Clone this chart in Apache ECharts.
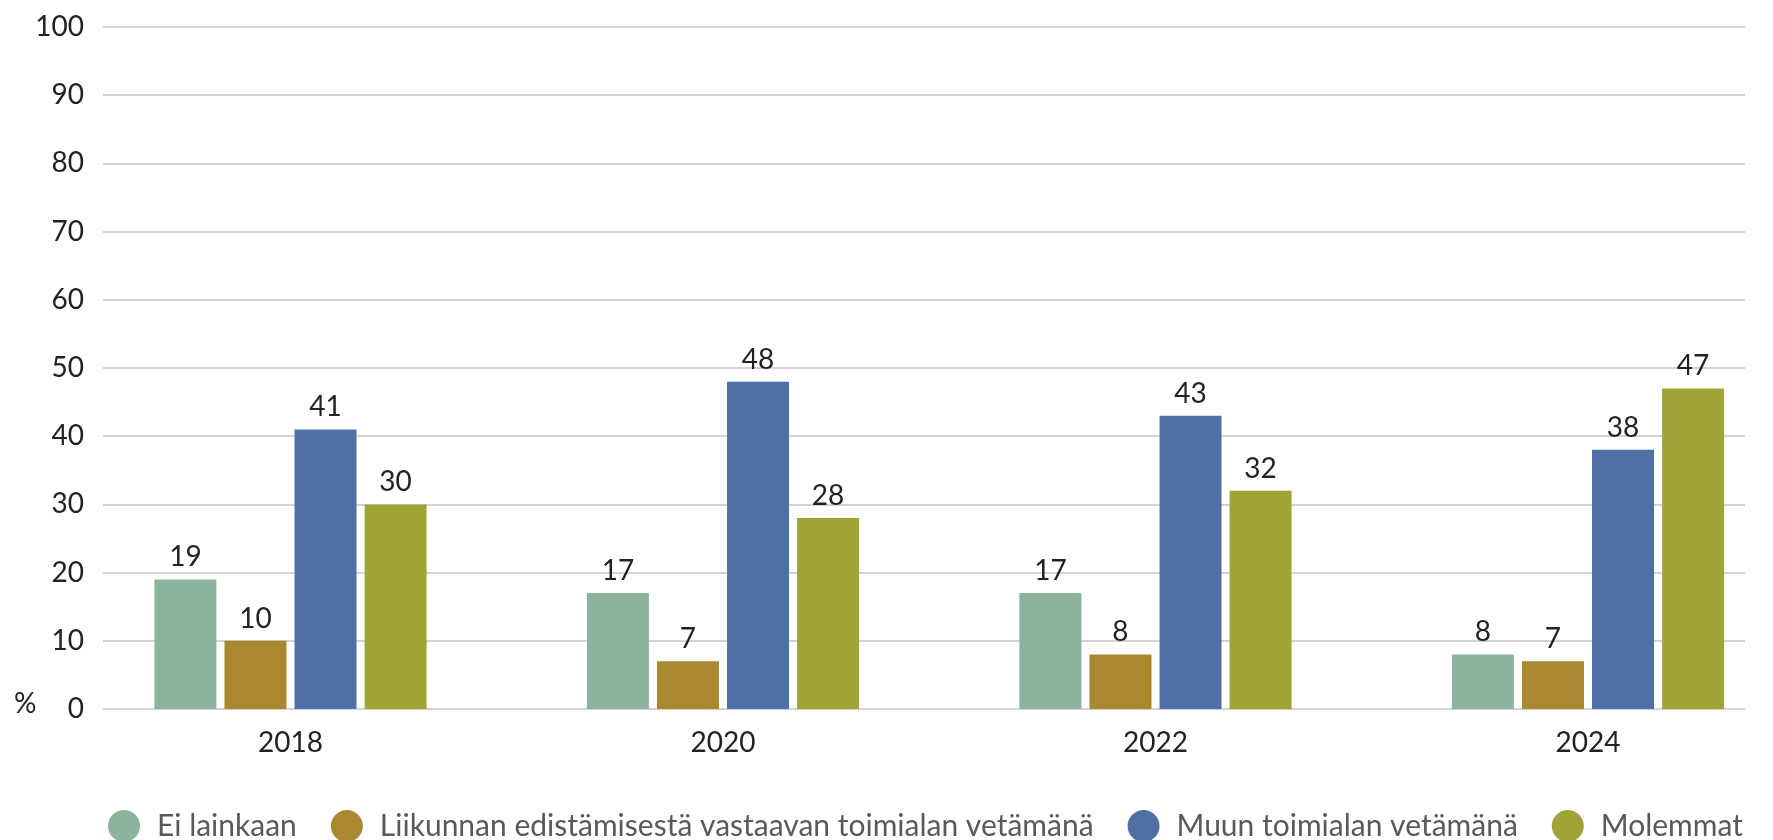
<!DOCTYPE html>
<html>
<head>
<meta charset="utf-8">
<script src="https://cdn.jsdelivr.net/npm/echarts@6/dist/echarts.min.js"></script>
<style>
  html, body { margin: 0; padding: 0; background: #fff; }
  #chart { width: 1773px; height: 840px; }
</style>
</head>
<body>
<div id="chart"></div>
<script>
const years = ['2018', '2020', '2022', '2024']
const seriesNames = [
  'Ei lainkaan',
  'Liikunnan edistämisestä vastaavan toimialan vetämänä',
  'Muun toimialan vetämänä',
  'Molemmat'
]
const eiLainkaan = [19, 17, 17, 8]
const liikunnan = [10, 7, 8, 7]
const muun = [41, 48, 43, 38]
const molemmat = [30, 28, 32, 47]
const colors = ['#8ab49b', '#aa8830', '#4e70a5', '#a0a335']

const font = 'Lato'
const chart = echarts.init(document.getElementById('chart'))

function bar (name, data, color) {
  return {
    name: name,
    type: 'bar',
    xAxisIndex: 0,
    yAxisIndex: 0,
    barWidth: 62,
    barGap: '13%',
    clip: false,
    itemStyle: { color: color },
    label: {
      show: true,
      position: 'top',
      distance: 8,
      fontFamily: font,
      fontSize: 28,
      color: '#222'
    },
    data: data
  }
}

chart.setOption({
  animation: false,
  textStyle: { fontFamily: font },
  color: colors,
  grid: [
    // bar groups sit on the ticks of this grid (first and last at its edges)
    { left: 290.5, width: 1297.5, top: 27, height: 682 },
    { left: 103, width: 1642, top: 27, height: 682 }
  ],
  legend: {
    left: 108,
    top: 810,
    padding: 0,
    icon: 'circle',
    itemWidth: 32,
    itemHeight: 32,
    itemGap: 34,
    textStyle: {
      fontFamily: font,
      fontSize: 30,
      color: '#595959',
      padding: [0, 0, 0, 12]
    },
    data: seriesNames
  },
  xAxis: [
    {
      gridIndex: 0,
      type: 'category',
      boundaryGap: false,
      data: years,
      axisLine: { show: false },
      axisTick: { show: false },
      axisLabel: { margin: 20, fontFamily: font, fontSize: 28, color: '#222' }
    },
    { gridIndex: 1, type: 'value', show: false, min: 0, max: 1 }
  ],
  yAxis: [
    { gridIndex: 0, type: 'value', min: 0, max: 100, interval: 10, show: false },
    {
      gridIndex: 1,
      type: 'value',
      min: 0,
      max: 100,
      interval: 10,
      axisLine: { show: false },
      axisTick: { show: false },
      axisLabel: { margin: 19, fontFamily: font, fontSize: 28, color: '#222' },
      splitLine: { lineStyle: { color: '#d3d3d3', width: 2 } }
    }
  ],
  graphic: [
    {
      type: 'text',
      left: 14,
      top: 690,
      style: { text: '%', fontFamily: font, fontSize: 28, fill: '#222' }
    }
  ],
  series: [
    bar(seriesNames[0], eiLainkaan, colors[0]),
    bar(seriesNames[1], liikunnan, colors[1]),
    bar(seriesNames[2], muun, colors[2]),
    bar(seriesNames[3], molemmat, colors[3])
  ]
})
</script>
</body>
</html>
